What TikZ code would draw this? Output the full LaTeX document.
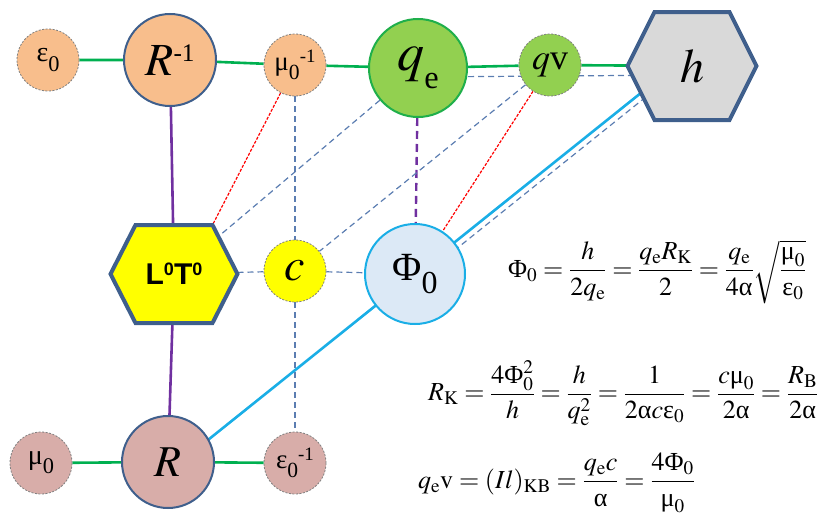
\documentclass[tikz,border=0pt]{standalone}
\usepackage{amsmath}
\usepackage{mathptmx}
\usepackage[no-math]{fontspec}
\setmainfont{Liberation Serif}
\newfontfamily\labelsans{Liberation Sans}
\usepackage{graphicx}
\usetikzlibrary{positioning,backgrounds}
\definecolor{peachFill}{HTML}{F8BE8C}
\definecolor{pinkFill}{HTML}{D8ADA9}
\definecolor{qFill}{HTML}{92D050}
\definecolor{qEdge}{HTML}{1FAF4B}
\definecolor{linkGreen}{HTML}{00B050}
\definecolor{hFill}{HTML}{D9D9D9}
\definecolor{hexBlue}{HTML}{3F5F8C}
\definecolor{cYellow}{HTML}{FFFF00}
\definecolor{phiFill}{HTML}{DCE9F6}
\definecolor{cyanLink}{HTML}{1AAEE6}
\definecolor{linkPurple}{HTML}{7030A0}
\definecolor{dashRed}{HTML}{FF0000}
\definecolor{dashBlue}{HTML}{5B7DB1}
\definecolor{dotGray}{HTML}{808080}
\newcommand{\lblsize}[1]{\fontsize{#1}{#1}\selectfont}
\newcommand{\lowidx}[2][0.8]{\raisebox{-0.33em}{\scalebox{#1}{#2}}}
\newcommand{\highidx}[2][0.55]{\raisebox{0.3em}{\scalebox{#1}{#2}}}
\newcommand{\gPhi}{\text{Φ}}
\newcommand{\gmu}{\text{μ}}
\newcommand{\geps}{\text{ε}}
\newcommand{\galpha}{\text{α}}
\tikzset{
  unitDot/.style={circle,inner sep=0pt,minimum size=62pt,fill=#1,draw=dotGray,
    line width=0.8pt,dash pattern=on 2pt off 1.5pt},
  mainDot/.style={circle,inner sep=0pt,minimum size=92pt,fill=#1,line width=2pt},
  hexLabel/.style={rectangle,inner sep=0pt,outer sep=0pt},
  hexEdge/.style={draw=hexBlue,line width=4pt,line join=miter},
  greenLink/.style={draw=linkGreen,line width=2.6pt},
  purpleLink/.style={draw=linkPurple,line width=2.6pt},
  purpleDash/.style={draw=linkPurple,line width=2.4pt,dash pattern=on 8pt off 5pt},
  redDash/.style={draw=dashRed,line width=1.2pt,dash pattern=on 3pt off 1.5pt},
  blueDash/.style={draw=dashBlue,line width=1.2pt,dash pattern=on 6pt off 4pt},
  cyanLink/.style={draw=cyanLink,line width=2.6pt},
  formula/.style={inner sep=0pt,font=\fontsize{26}{30}\selectfont}
}

\begin{document}
\begin{tikzpicture}[x=1pt,y=-1pt]
  \useasboundingbox (0,0) rectangle (828,522);
  % top row
  \node[unitDot=peachFill] (eps0) at (48,60) {\lblsize{28}ε\lowidx{0}};
  \node[mainDot=peachFill,draw=hexBlue] (rinv) at (170,60) {\lblsize{46}$R$\highidx{-1}};
  \node[unitDot=peachFill] (muinv) at (295,65) {\lblsize{27}μ\lowidx{0}\highidx[0.7]{-1}};
  \node[mainDot=qFill,draw=qEdge,minimum size=98pt] (qe) at (418,68) {\lblsize{54}$q$\lowidx[0.6]{e}};
  \node[unitDot=qFill] (qv) at (550,65) {\lblsize{36}$q$v};
  \node[hexLabel,minimum width=129pt,minimum height=108pt] (h) at (692,66) {\lblsize{48}$h$};
  % middle row
  \node[hexLabel,minimum width=127pt,minimum height=98pt] (lt) at (174,274)
    {\lblsize{30}\labelsans\bfseries L\highidx[0.6]{0}T\highidx[0.6]{0}};
  \node[unitDot=cYellow] (c) at (295,271) {\lblsize{46}$c$};
  \node[mainDot=phiFill,draw=cyanLink,minimum size=100pt] (phi) at (415,274) {\lblsize{40}Φ\lowidx{0}};
  % bottom row
  \node[unitDot=pinkFill] (mu0) at (41,463) {\lblsize{28}μ\lowidx{0}};
  \node[mainDot=pinkFill,draw=hexBlue] (r) at (168,462) {\lblsize{44}$R$};
  \node[unitDot=pinkFill] (epsinv) at (295,463) {\lblsize{27}ε\lowidx{0}\highidx[0.7]{-1}};
  % relations
  \node[formula,anchor=west] (f1) at (508,272)
    {$\gPhi_0=\dfrac{h}{2q_{\mathrm{e}}}=\dfrac{q_{\mathrm{e}}R_{\mathrm{K}}}{2}=\dfrac{q_{\mathrm{e}}}{4\galpha}\sqrt{\dfrac{\gmu_0}{\geps_0}}$};
  \node[formula,anchor=west] (f2) at (428,393)
    {$R_{\mathrm{K}}=\dfrac{4\gPhi_0^2}{h}=\dfrac{h}{q_{\mathrm{e}}^2}=\dfrac{1}{2\galpha c\geps_0}=\dfrac{c\gmu_0}{2\galpha}=\dfrac{R_{\mathrm{B}}}{2\galpha}$};
  \node[formula,anchor=west] (f3) at (418,483)
    {$q_{\mathrm{e}}\mathrm{v}=(Il)_{\mathrm{KB}}=\dfrac{q_{\mathrm{e}}c}{\galpha}=\dfrac{4\gPhi_0}{\gmu_0}$};
  \begin{scope}[on background layer]
    \draw[greenLink] (eps0) -- (rinv) -- (muinv) -- (qe) -- (qv) -- (h);
    \draw[greenLink] (mu0) -- (r) -- (epsinv);
    \draw[purpleLink] (rinv) -- (lt) -- (r);
    \draw[purpleDash] (qe) -- (phi);
    \draw[redDash] (muinv) -- ([xshift=-25pt]lt.north east);
    \draw[redDash] (qv) -- (phi);
    \draw[blueDash] (muinv) -- (c) -- (epsinv);
    \draw[blueDash] (lt) -- (c) -- (phi);
    \draw[blueDash] (qe) -- (lt.center);
    \draw[blueDash] (qv) -- (c);
    \draw[blueDash] ([yshift=-9pt]qe.center) -- ([yshift=-9pt]h.center);
    \draw[blueDash] ([yshift=-8pt]phi.center) -- ([yshift=6pt]h.center);
    \draw[cyanLink] ([yshift=-10pt]r.center) -- ([yshift=14pt]h.center);
    % hexagons sit over the link ends
    \draw[hexEdge,fill=hFill] ([xshift=27pt]h.north west) -- ([xshift=-27pt]h.north east) -- (h.east)
      -- ([xshift=-27pt]h.south east) -- ([xshift=27pt]h.south west) -- (h.west) -- cycle;
    \draw[hexEdge,fill=cYellow] ([xshift=25pt]lt.north west) -- ([xshift=-25pt]lt.north east) -- (lt.east)
      -- ([xshift=-25pt]lt.south east) -- ([xshift=25pt]lt.south west) -- (lt.west) -- cycle;
  \end{scope}
\end{tikzpicture}
\end{document}
